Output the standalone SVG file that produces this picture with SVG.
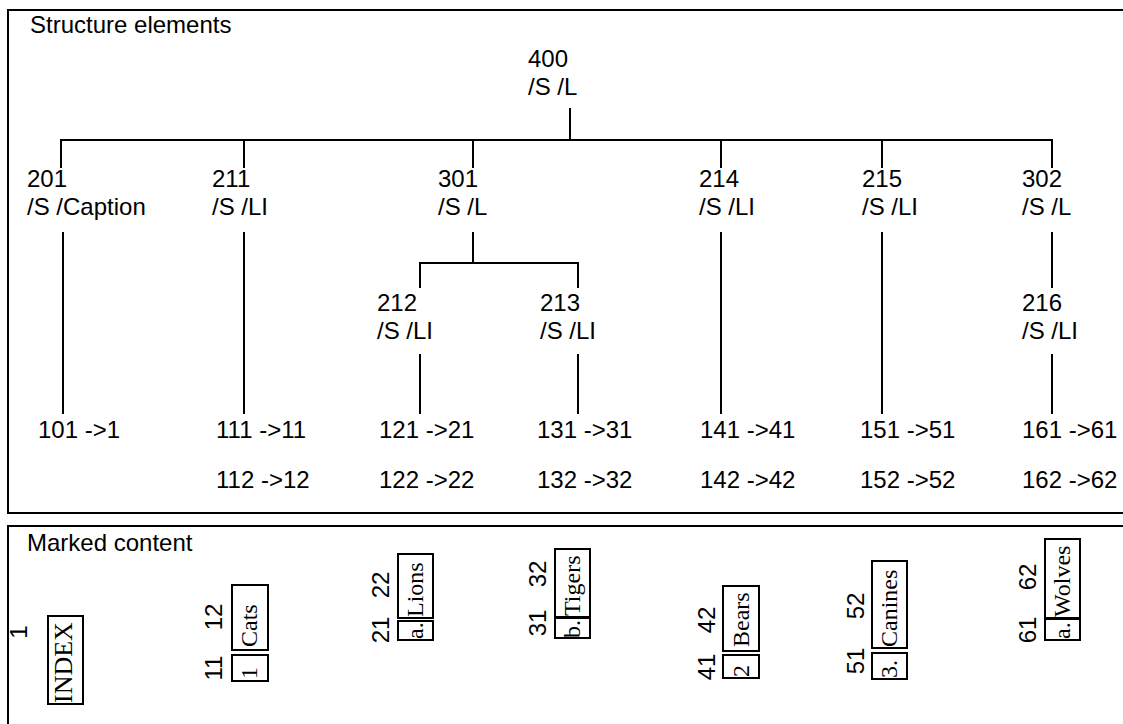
<svg xmlns="http://www.w3.org/2000/svg" width="1123" height="724" viewBox="0 0 1123 724">
<style>
.s{font-family:"Liberation Sans",Arial,sans-serif;font-size:24px;fill:#000}
.t{font-family:"Liberation Serif","Times New Roman",serif;font-size:24px;fill:#000}
.ln{fill:none;stroke:#000;stroke-width:2}
.bx{fill:none;stroke:#000;stroke-width:2}
.m{text-anchor:middle}
</style>
<rect width="1123" height="724" fill="#fff"/>
<g id="frames">
<path class="ln" d="M1126,10 H8 V513 H1126"/>
<path class="ln" d="M1126,526 H8 V728"/>
<text class="s" x="30" y="33">Structure elements</text>
<text class="s" x="27" y="551">Marked content</text>
</g>
<g id="connectors">
<path class="ln" d="M570,108 V140"/>
<path class="ln" d="M61,168 V140 H1052 V168"/>
<path class="ln" d="M244,140 V168 M473,140 V168 M721,140 V168 M882,140 V168"/>
<path class="ln" d="M63,232 V414 M244,232 V414 M721,232 V414 M882,232 V414"/>
<path class="ln" d="M473,232 V263"/>
<path class="ln" d="M420,288 V263 H578 V288"/>
<path class="ln" d="M420,354 V414 M578,354 V414"/>
<path class="ln" d="M1052,232 V288 M1052,354 V414"/>
</g>
<g id="n400"><text class="s" x="528" y="67">400</text><text class="s" x="528" y="95">/S /L</text></g>
<g id="n201"><text class="s" x="27" y="187">201</text><text class="s" x="27" y="215">/S /Caption</text></g>
<g id="n211"><text class="s" x="212" y="187">211</text><text class="s" x="212" y="215">/S /LI</text></g>
<g id="n301"><text class="s" x="438" y="187">301</text><text class="s" x="438" y="215">/S /L</text></g>
<g id="n214"><text class="s" x="699" y="187">214</text><text class="s" x="699" y="215">/S /LI</text></g>
<g id="n215"><text class="s" x="862" y="187">215</text><text class="s" x="862" y="215">/S /LI</text></g>
<g id="n302"><text class="s" x="1022" y="187">302</text><text class="s" x="1022" y="215">/S /L</text></g>
<g id="n212"><text class="s" x="377" y="311">212</text><text class="s" x="377" y="339">/S /LI</text></g>
<g id="n213"><text class="s" x="540" y="311">213</text><text class="s" x="540" y="339">/S /LI</text></g>
<g id="n216"><text class="s" x="1022" y="311">216</text><text class="s" x="1022" y="339">/S /LI</text></g>
<g id="leaf101"><text class="s" x="38" y="438">101 -&gt;1</text></g>
<g id="leaf111"><text class="s" x="216" y="438">111 -&gt;11</text><text class="s" x="216" y="488">112 -&gt;12</text></g>
<g id="leaf121"><text class="s" x="379" y="438">121 -&gt;21</text><text class="s" x="379" y="488">122 -&gt;22</text></g>
<g id="leaf131"><text class="s" x="537" y="438">131 -&gt;31</text><text class="s" x="537" y="488">132 -&gt;32</text></g>
<g id="leaf141"><text class="s" x="700" y="438">141 -&gt;41</text><text class="s" x="700" y="488">142 -&gt;42</text></g>
<g id="leaf151"><text class="s" x="860" y="438">151 -&gt;51</text><text class="s" x="860" y="488">152 -&gt;52</text></g>
<g id="leaf161"><text class="s" x="1022" y="438">161 -&gt;61</text><text class="s" x="1022" y="488">162 -&gt;62</text></g>
<g id="mc1">
<rect class="bx" x="48" y="616" width="35" height="88"/>
<text class="s m" transform="translate(27,632) rotate(-90)">1</text>
<text class="t" style="font-size:26px" transform="translate(72,703) rotate(-90)">INDEX</text>
</g>
<g id="mcCats">
<rect class="bx" x="232" y="585" width="36" height="65"/>
<rect class="bx" x="232" y="655" width="36" height="26"/>
<text class="s m" transform="translate(222,617) rotate(-90)">12</text>
<text class="s m" transform="translate(222,668) rotate(-90)">11</text>
<text class="t" transform="translate(257,647) rotate(-90)">Cats</text>
<text class="t" transform="translate(257,679) rotate(-90)">1</text>
</g>
<g id="mcLions">
<rect class="bx" x="398" y="554" width="35" height="64"/>
<rect class="bx" x="398" y="621" width="35" height="19"/>
<text class="s m" transform="translate(389,585) rotate(-90)">22</text>
<text class="s m" transform="translate(389,630) rotate(-90)">21</text>
<text class="t" transform="translate(423,617) rotate(-90)">Lions</text>
<text class="t" transform="translate(423,639) rotate(-90)">a.</text>
</g>
<g id="mcTigers">
<rect class="bx" x="555" y="549" width="35" height="68"/>
<rect class="bx" x="555" y="618" width="35" height="20"/>
<text class="s m" transform="translate(546,574) rotate(-90)">32</text>
<text class="s m" transform="translate(546,623) rotate(-90)">31</text>
<text class="t" transform="translate(580,616) rotate(-90)">Tigers</text>
<text class="t" transform="translate(580,638) rotate(-90)">b.</text>
</g>
<g id="mcBears">
<rect class="bx" x="723" y="586" width="36" height="65"/>
<rect class="bx" x="723" y="655" width="36" height="23"/>
<text class="s m" transform="translate(715,620) rotate(-90)">42</text>
<text class="s m" transform="translate(715,667) rotate(-90)">41</text>
<text class="t" transform="translate(749,647) rotate(-90)">Bears</text>
<text class="t" transform="translate(749,677) rotate(-90)">2</text>
</g>
<g id="mcCanines">
<rect class="bx" x="872" y="561" width="35" height="87"/>
<rect class="bx" x="872" y="653" width="35" height="26"/>
<text class="s m" transform="translate(864,606) rotate(-90)">52</text>
<text class="s m" transform="translate(864,661) rotate(-90)">51</text>
<text class="t" transform="translate(897,647) rotate(-90)">Canines</text>
<text class="t" transform="translate(897,678) rotate(-90)">3.</text>
</g>
<g id="mcWolves">
<rect class="bx" x="1045" y="539" width="35" height="79"/>
<rect class="bx" x="1045" y="619" width="35" height="21"/>
<text class="s m" transform="translate(1036,577) rotate(-90)">62</text>
<text class="s m" transform="translate(1036,630) rotate(-90)">61</text>
<text class="t" transform="translate(1070,617) rotate(-90)">Wolves</text>
<text class="t" transform="translate(1070,639) rotate(-90)">a.</text>
</g>
</svg>
